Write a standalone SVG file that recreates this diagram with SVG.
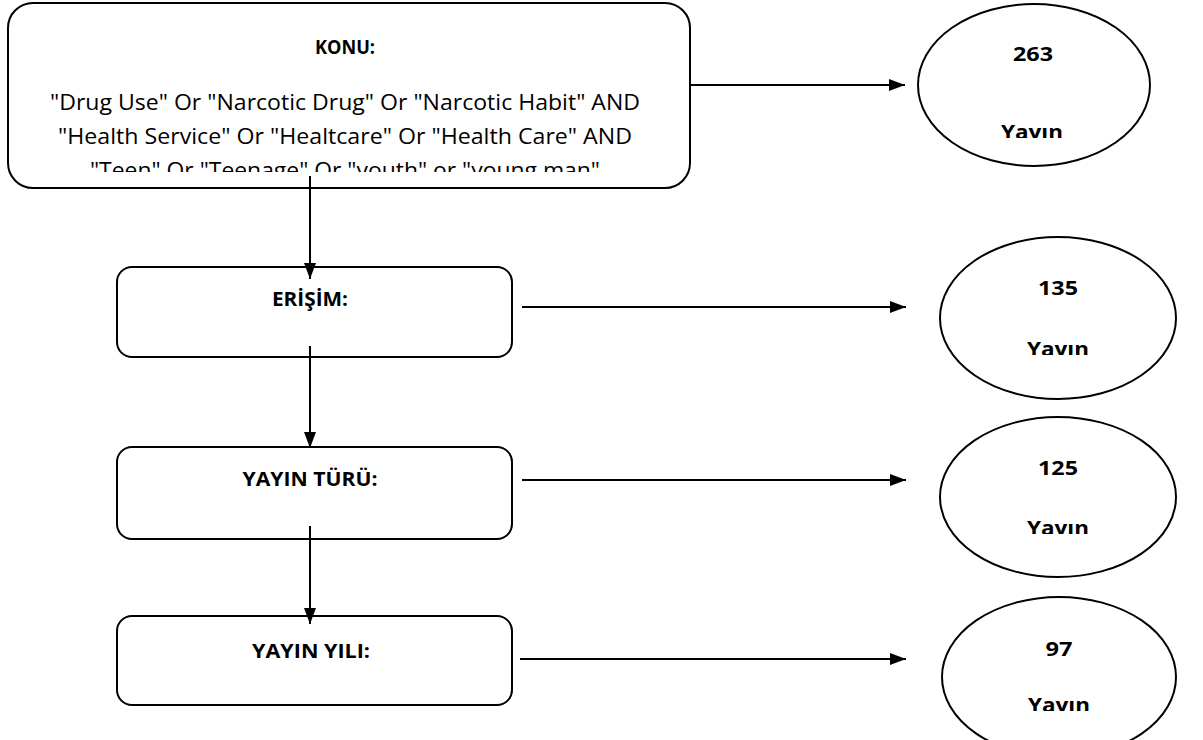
<svg xmlns="http://www.w3.org/2000/svg" width="1203" height="740" viewBox="0 0 1203 740">
<style>
.box{fill:#fff;stroke:#000;stroke-width:2}
.ell{fill:#fff;stroke:#000;stroke-width:2}
.con{stroke:#000;stroke-width:2;fill:none}
.t{font-family:"Open Sans","Liberation Sans",sans-serif;font-size:21px;fill:#000;text-anchor:middle}
.b{font-family:"Open Sans","Liberation Sans",sans-serif;font-size:20px;font-weight:bold;fill:#000;text-anchor:middle}
</style>
<defs>
<marker id="ah" markerWidth="16" markerHeight="12" refX="16" refY="6" orient="auto" markerUnits="userSpaceOnUse">
<path d="M0,0 L16,6 L0,12 Z" fill="#000"/>
</marker>
<clipPath id="c1"><rect x="8" y="3" width="682" height="169"/></clipPath>
<clipPath id="cy1"><rect x="900" y="0" width="300" height="138"/></clipPath>
<clipPath id="cy2"><rect x="900" y="230" width="300" height="125"/></clipPath>
<clipPath id="cy3"><rect x="900" y="410" width="300" height="124"/></clipPath>
<clipPath id="cy4"><rect x="900" y="590" width="300" height="121"/></clipPath>
</defs>
<g id="konu">
<rect class="box" x="8" y="3" width="682" height="185" rx="25"/>
<text class="b" x="345" y="54" textLength="60" lengthAdjust="spacingAndGlyphs">KONU:</text>
<g clip-path="url(#c1)">
<text class="t" x="345" y="110" textLength="590" lengthAdjust="spacingAndGlyphs">"Drug Use" Or "Narcotic Drug" Or "Narcotic Habit" AND</text>
<text class="t" x="345" y="144" textLength="574" lengthAdjust="spacingAndGlyphs">"Health Service" Or "Healtcare" Or "Health Care" AND</text>
<text class="t" x="345" y="178" textLength="510" lengthAdjust="spacingAndGlyphs">"Teen" Or "Teenage" Or "youth" or "young man"</text>
</g>
</g>
<g id="erisim">
<rect class="box" x="117" y="267" width="395" height="90" rx="15"/>
<text class="b" x="310" y="306" textLength="76" lengthAdjust="spacingAndGlyphs">ERİŞİM:</text>
</g>
<g id="tur">
<rect class="box" x="117" y="447" width="395" height="92" rx="15"/>
<text class="b" x="310" y="486" textLength="135" lengthAdjust="spacingAndGlyphs">YAYIN TÜRÜ:</text>
</g>
<g id="yil">
<rect class="box" x="117" y="616" width="395" height="89" rx="15"/>
<text class="b" x="311" y="658" textLength="118" lengthAdjust="spacingAndGlyphs">YAYIN YILI:</text>
</g>
<g id="r1">
<ellipse class="ell" cx="1034" cy="85" rx="116" ry="81"/>
<text class="b" x="1033" y="61" textLength="40" lengthAdjust="spacingAndGlyphs">263</text>
<text class="b" x="1032" y="139" clip-path="url(#cy1)" textLength="62" lengthAdjust="spacingAndGlyphs">Yayın</text>
</g>
<g id="r2">
<ellipse class="ell" cx="1058" cy="318" rx="118" ry="81"/>
<text class="b" x="1058" y="295" textLength="40" lengthAdjust="spacingAndGlyphs">135</text>
<text class="b" x="1058" y="356" clip-path="url(#cy2)" textLength="62" lengthAdjust="spacingAndGlyphs">Yayın</text>
</g>
<g id="r3">
<ellipse class="ell" cx="1058" cy="497" rx="118" ry="80"/>
<text class="b" x="1058" y="475" textLength="40" lengthAdjust="spacingAndGlyphs">125</text>
<text class="b" x="1058" y="535" clip-path="url(#cy3)" textLength="62" lengthAdjust="spacingAndGlyphs">Yayın</text>
</g>
<g id="r4">
<ellipse class="ell" cx="1059" cy="677" rx="117" ry="80"/>
<text class="b" x="1059" y="656" textLength="27" lengthAdjust="spacingAndGlyphs">97</text>
<text class="b" x="1059" y="712" clip-path="url(#cy4)" textLength="62" lengthAdjust="spacingAndGlyphs">Yayın</text>
</g>
<g id="connectors">
<line class="con" x1="690" y1="85" x2="905" y2="85" marker-end="url(#ah)"/>
<line class="con" x1="522" y1="307" x2="906" y2="307" marker-end="url(#ah)"/>
<line class="con" x1="522" y1="480" x2="906" y2="480" marker-end="url(#ah)"/>
<line class="con" x1="520" y1="659" x2="906" y2="659" marker-end="url(#ah)"/>
<line class="con" x1="310" y1="176" x2="310" y2="279" marker-end="url(#ah)"/>
<line class="con" x1="310" y1="346" x2="310" y2="448" marker-end="url(#ah)"/>
<line class="con" x1="310" y1="526" x2="310" y2="624" marker-end="url(#ah)"/>
</g>
</svg>
